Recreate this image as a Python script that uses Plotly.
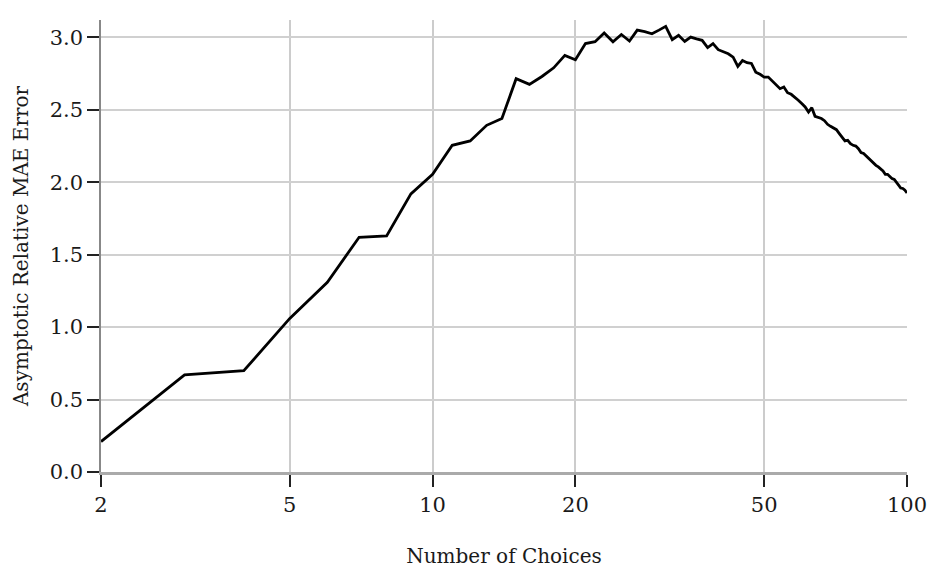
import plotly.graph_objects as go

# Number of choices (x) and asymptotic relative MAE error (y)
choices = list(range(2, 101))
error = [
    0.21, 0.67, 0.70, 1.06, 1.31, 1.62, 1.63, 1.92, 2.055,          # 2-10
    2.255, 2.285, 2.393, 2.44, 2.715, 2.676, 2.73, 2.79, 2.876, 2.846,  # 11-20
    2.957, 2.97, 3.03, 2.97, 3.02, 2.975, 3.05, 3.04, 3.025, 3.05,  # 21-30
    3.076, 2.984, 3.014, 2.972, 3.002, 2.99, 2.98, 2.93, 2.957, 2.915,  # 31-40
    2.90, 2.887, 2.864, 2.80, 2.84, 2.825, 2.82, 2.76, 2.745, 2.726,  # 41-50
    2.726, 2.70, 2.676, 2.646, 2.657, 2.618, 2.607, 2.589, 2.566, 2.543,  # 51-60
    2.52, 2.485, 2.515, 2.455, 2.45, 2.44, 2.425, 2.40, 2.386, 2.377,  # 61-70
    2.363, 2.336, 2.313, 2.285, 2.29, 2.267, 2.255, 2.25, 2.232, 2.205,  # 71-80
    2.198, 2.18, 2.163, 2.147, 2.133, 2.117, 2.106, 2.094, 2.078, 2.055,  # 81-90
    2.055, 2.04, 2.025, 2.019, 2.002, 1.98, 1.96, 1.957, 1.945, 1.926,  # 91-100
]

x_ticks = [2, 5, 10, 20, 50, 100]
y_ticks = [0.0, 0.5, 1.0, 1.5, 2.0, 2.5, 3.0]

FONT = "DejaVu Serif"

fig = go.Figure(
    go.Scatter(
        x=choices,
        y=error,
        mode="lines",
        line=dict(color="black", width=2.8),
        showlegend=False,
        cliponaxis=False,
    )
)

fig.update_layout(
    width=932,
    height=569,
    margin=dict(l=101, r=25, t=20, b=97),
    paper_bgcolor="white",
    plot_bgcolor="white",
    font=dict(family=FONT, size=20, color="#1a1a1a"),
)

fig.update_xaxes(
    type="log",
    range=[0.30103, 2.0],
    tickvals=x_ticks,
    ticktext=[str(v) for v in x_ticks],
    ticks="outside",
    ticklen=12,
    tickwidth=1.5,
    tickcolor="#222222",
    tickfont=dict(size=21),
    showgrid=True,
    gridcolor="#cccccc",
    gridwidth=1.5,
    showline=True,
    linecolor="#aaaaaa",
    linewidth=2.5,
    zeroline=False,
    automargin=False,
    title=dict(text="Number of Choices", font=dict(family=FONT, size=20), standoff=34),
)

fig.update_yaxes(
    range=[0, 3.12],
    tickvals=y_ticks,
    ticktext=[f"{v:.1f}" for v in y_ticks],
    ticks="outside",
    ticklen=12,
    tickwidth=1.5,
    tickcolor="#222222",
    tickfont=dict(size=21),
    showgrid=True,
    gridcolor="#d0d0d0",
    gridwidth=1.5,
    showline=True,
    linecolor="#888888",
    linewidth=1.5,
    zeroline=False,
    automargin=False,
    title=dict(text="Asymptotic Relative MAE Error", font=dict(family=FONT, size=20), standoff=16),
)

fig.write_html("out.html")
